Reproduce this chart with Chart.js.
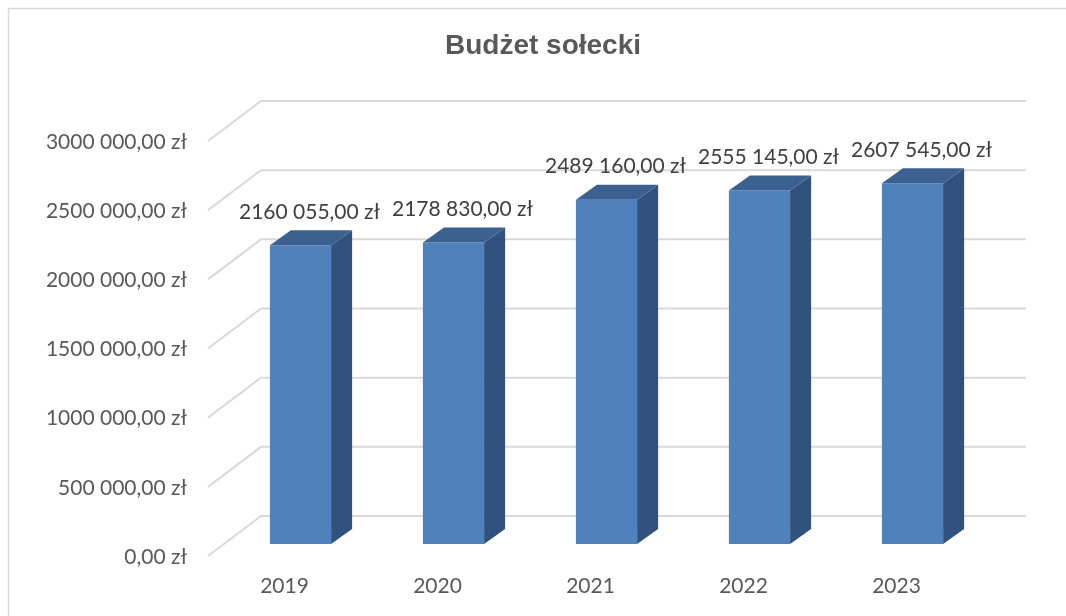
<!DOCTYPE html>
<html>
<head>
<meta charset="utf-8">
<script src="https://cdn.jsdelivr.net/npm/chart.js@4"></script>
<style>
  html, body { margin: 0; padding: 0; background: #fff; }
  #chart { display: block; }
</style>
</head>
<body>
<canvas id="chart" width="1066" height="616"></canvas>
<script>
const years = ['2019', '2020', '2021', '2022', '2023']
const budget = [2160055, 2178830, 2489160, 2555145, 2607545]
const tickValues = [0, 500000, 1000000, 1500000, 2000000, 2500000, 3000000]
const chartTitle = 'Budżet sołecki'

// polish-ish format used in the sheet: "2160 055,00 zł"
const fmt = v => {
  if(v < 1000) return v + ',00 zł'
  const th = Math.floor(v / 1000)
  const rest = String(v % 1000).padStart(3, '0')
  return th + ' ' + rest + ',00 zł'
}

// fake 3d offsets
const barDepth = { x: 21, y: -15 }
const backWall = { x: 37, y: -28 }
const frontEdge = { x: -16, y: 12 }

const font = '21px Lato'

const fake3d = {
  id: 'fake3d',
  beforeDatasetsDraw(chart){
    const ctx = chart.ctx
    const xs = chart.scales.x
    const ys = chart.scales.y
    const area = chart.chartArea
    ctx.save()

    // outer frame
    ctx.strokeStyle = '#D9D9D9'
    ctx.lineWidth = 1.5
    ctx.beginPath()
    ctx.moveTo(8.5, 616)
    ctx.lineTo(8.5, 8.5)
    ctx.lineTo(1066, 8.5)
    ctx.stroke()

    // title, centred on the whole frame
    ctx.font = 'bold 28px "Liberation Sans"'
    ctx.fillStyle = '#595959'
    ctx.textAlign = 'center'
    ctx.textBaseline = 'alphabetic'
    ctx.fillText(chartTitle, 543, 54)

    // walls
    ctx.lineWidth = 2
    for(const v of tickValues){
      const y = ys.getPixelForValue(v)
      ctx.beginPath()
      ctx.moveTo(area.left + frontEdge.x, y + frontEdge.y)
      ctx.lineTo(area.left + backWall.x, y + backWall.y)
      ctx.lineTo(area.right + backWall.x, y + backWall.y)
      ctx.stroke()
    }

    // tick labels
    ctx.font = font
    ctx.fillStyle = '#595959'
    ctx.textAlign = 'right'
    ctx.textBaseline = 'middle'
    for(const v of tickValues){
      const y = ys.getPixelForValue(v)
      ctx.fillText(fmt(v), area.left + frontEdge.x - 21, y + frontEdge.y + 1)
    }

    // category labels
    ctx.textAlign = 'center'
    const y0 = ys.getPixelForValue(0)
    years.forEach((yr, i) => {
      ctx.fillText(yr, xs.getPixelForValue(i) + frontEdge.x, y0 + 42)
    })
    ctx.restore()
  },
  afterDatasetsDraw(chart){
    const ctx = chart.ctx
    const meta = chart.getDatasetMeta(0)
    ctx.save()
    meta.data.forEach((bar, i) => {
      const left = bar.x - bar.width / 2
      const right = bar.x + bar.width / 2
      const top = bar.y
      const bottom = bar.base

      // side
      ctx.fillStyle = '#31527C'
      ctx.beginPath()
      ctx.moveTo(right, top)
      ctx.lineTo(right + barDepth.x, top + barDepth.y)
      ctx.lineTo(right + barDepth.x, bottom + barDepth.y)
      ctx.lineTo(right, bottom)
      ctx.closePath()
      ctx.fill()

      // top
      ctx.fillStyle = '#3C6191'
      ctx.beginPath()
      ctx.moveTo(left, top)
      ctx.lineTo(left + barDepth.x, top + barDepth.y)
      ctx.lineTo(right + barDepth.x, top + barDepth.y)
      ctx.lineTo(right, top)
      ctx.closePath()
      ctx.fill()

      // value label
      ctx.font = font
      ctx.fillStyle = '#404040'
      ctx.textAlign = 'center'
      ctx.textBaseline = 'middle'
      ctx.fillText(fmt(budget[i]), bar.x + 9, top - 33)
    })
    ctx.restore()
  }
}

const ctx = document.getElementById('chart').getContext('2d')
const chartBudget = new Chart(ctx, {
  type: 'bar',
  data: {
    labels: years,
    datasets: [
      {
        label: chartTitle,
        data: budget,
        backgroundColor: '#4F81BD',
        borderWidth: 0,
        barPercentage: 0.4,
        categoryPercentage: 1
      }
    ]
  },
  options: {
    responsive: false,
    animation: false,
    devicePixelRatio: 1,
    layout: {
      padding: { left: 224, right: 77, top: 129, bottom: 72 }
    },
    scales: {
      x: { display: false, offset: true },
      y: { display: false, min: 0, max: 3000000 }
    },
    plugins: {
      legend: { display: false },
      tooltip: { enabled: false },
      title: { display: false }
    }
  },
  plugins: [fake3d]
})
</script>
</body>
</html>
